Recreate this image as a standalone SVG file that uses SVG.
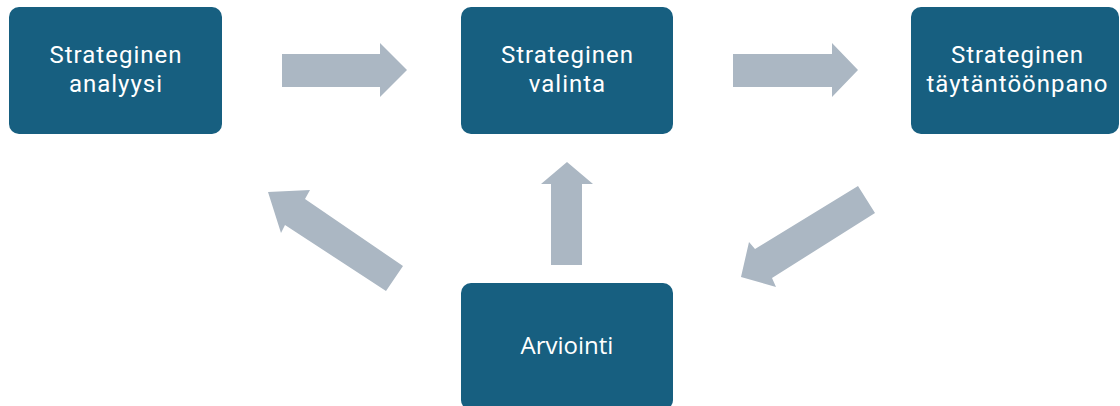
<svg xmlns="http://www.w3.org/2000/svg" width="1120" height="406" viewBox="0 0 1120 406">
<style>
.box{fill:#175F80;}
.arr{fill:#ABB7C3;}
.t{font-family:Roboto,"Liberation Sans",sans-serif;font-size:24px;fill:#FFFFFF;text-anchor:middle;letter-spacing:1px;}
.t2{font-family:"Open Sans","Liberation Sans",sans-serif;font-size:24px;fill:#FFFFFF;text-anchor:middle;}
</style>
<rect width="1120" height="406" fill="#FFFFFF"/>
<g id="connectors">
<polygon class="arr" points="282,54 380,54 380,43 407,70 380,97 380,87 282,87"/>
<polygon class="arr" points="733,54 832,54 832,43 858,70 832,97 832,87 733,87"/>
<polygon class="arr" points="551,265 551,184 541,184 567,162 593,184 582,184 582,265"/>
<polygon class="arr" points="403,266 386,291 285,225 281,233 268,192 310,190 305,199"/>
<polygon class="arr" points="858,186 875,213 772,278 776,287 741,277 749,242 755,249"/>
</g>
<g id="node-analyysi">
<rect class="box" x="9" y="7" width="213" height="127" rx="10"/>
<text class="t" x="116" y="63">Strateginen</text>
<text class="t" x="116" y="92">analyysi</text>
</g>
<g id="node-valinta">
<rect class="box" x="461" y="7" width="212" height="127" rx="10"/>
<text class="t" x="567.5" y="63">Strateginen</text>
<text class="t" x="567.5" y="92">valinta</text>
</g>
<g id="node-taytantoonpano">
<rect class="box" x="911" y="7" width="208" height="127" rx="10"/>
<text class="t" x="1017.5" y="63">Strateginen</text>
<text class="t" x="1017.5" y="92">täytäntöönpano</text>
</g>
<g id="node-arviointi">
<rect class="box" x="461" y="283" width="212" height="127" rx="10"/>
<text class="t2" x="567" y="354">Arviointi</text>
</g>
</svg>
